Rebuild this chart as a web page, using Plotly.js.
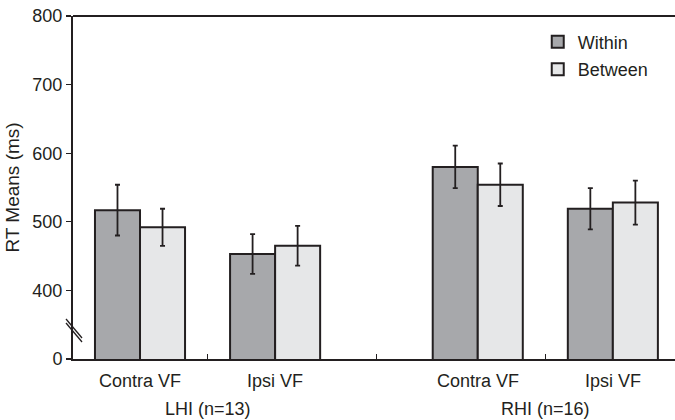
<!DOCTYPE html>
<html>
<head>
<meta charset="utf-8">
<script src="https://cdn.plot.ly/plotly-3.0.1.min.js"></script>
<style>html,body{margin:0;padding:0;background:#fff;}#chart{width:675px;height:420px;}</style>
</head>
<body>
<div id="chart"></div>
<script>
// Data
var categories = ["Contra VF", "Ipsi VF", "Contra VF", "Ipsi VF"];
var categoryPos = [0, 1, 2.5, 3.5];
var groups = ["LHI (n=13)", "RHI (n=16)"];
var groupPos = [0.5, 3.0];
var withinMeans = [517, 453, 580, 519];
var withinErr = [37, 29, 31, 30];
var betweenMeans = [492, 465, 554, 528];
var betweenErr = [27, 29, 31, 32];
var yTickVals = [300, 400, 500, 600, 700, 800];
var yTickText = ["0", "400", "500", "600", "700", "800"];
var dividerPos = [0.5, 1.75, 3.0];

var ink = "#231f20";
var FONT = "Liberation Sans, Arial, sans-serif";
var FS = 18;
var bw = 1/3;

var traces = [
  {
    type: "bar", name: "Within", legendgroup: "a",
    x: categoryPos.map(function(p){return p - bw/2;}),
    y: withinMeans, width: bw,
    marker: {color: "#a7a8ab", line: {color: ink, width: 2}},
    error_y: {type: "data", array: withinErr, visible: true, color: ink, thickness: 1.8, width: 2.5}
  },
  {
    type: "bar", name: "Between", legendgroup: "b",
    x: categoryPos.map(function(p){return p + bw/2;}),
    y: betweenMeans, width: bw,
    marker: {color: "#e6e7e8", line: {color: ink, width: 2}},
    error_y: {type: "data", array: betweenErr, visible: true, color: ink, thickness: 1.8, width: 2.5}
  }
];

var annotations = [];
categories.forEach(function(c, i){
  annotations.push({x: categoryPos[i], y: 0, xref: "x", yref: "paper", yanchor: "middle", yshift: -22, text: c,
    showarrow: false, font: {family: FONT, size: FS, color: ink}});
});
groups.forEach(function(g, i){
  annotations.push({x: groupPos[i], y: 0, xref: "x", yref: "paper", yanchor: "middle", yshift: -50, text: g,
    showarrow: false, font: {family: FONT, size: FS, color: ink}});
});

var shapes = [
  {type: "line", xref: "paper", yref: "paper", x0: 0, x1: 1, y0: 1, y1: 1, line: {color: ink, width: 2}},
  {type: "line", xref: "paper", yref: "paper", x0: -0.0116, x1: 0.0150, y0: 0.1166, y1: 0.0612, line: {color: ink, width: 1.3}},
  {type: "line", xref: "paper", yref: "paper", x0: -0.0116, x1: 0.0150, y0: 0.1050, y1: 0.0496, line: {color: ink, width: 1.3}}
];

var layout = {
  width: 675, height: 420,
  margin: {l: 73, r: 0, t: 16, b: 61},
  paper_bgcolor: "#fff", plot_bgcolor: "#fff",
  font: {family: FONT, size: FS, color: ink},
  barmode: "overlay",
  bargap: 0,
  showlegend: true,
  legend: {x: 0.772, y: 0.978, xanchor: "left", yanchor: "top", bgcolor: "rgba(0,0,0,0)",
    font: {family: FONT, size: FS, color: ink}, tracegroupgap: 1, itemwidth: 30},
  xaxis: {range: [-0.496, 3.96], showgrid: false, zeroline: false, showline: true, linecolor: ink, linewidth: 2,
    tickvals: dividerPos, ticktext: ["", "", ""], ticks: "inside", ticklen: 5, tickcolor: ink, tickwidth: 1.2, fixedrange: true},
  yaxis: {range: [300, 800], showgrid: false, zeroline: false, showline: true, linecolor: ink, linewidth: 2,
    tickvals: yTickVals, ticktext: yTickText, ticks: "outside", ticklen: 5, tickcolor: ink, tickwidth: 1.2,
    tickfont: {family: FONT, size: FS, color: ink},
    title: {text: "RT Means (ms)", font: {family: FONT, size: 19, color: ink}, standoff: 8}},
  annotations: annotations,
  shapes: shapes
};

Plotly.newPlot("chart", traces, layout, {displayModeBar: false, staticPlot: true});
</script>
</body>
</html>
